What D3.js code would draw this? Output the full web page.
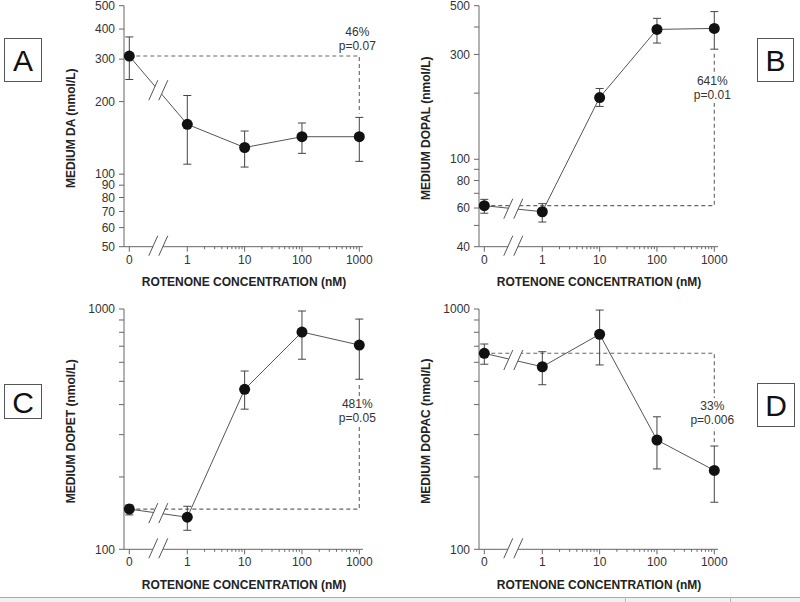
<!DOCTYPE html>
<html><head><meta charset="utf-8">
<script src="https://cdn.jsdelivr.net/npm/d3@7"></script>
<style>
html,body{margin:0;padding:0;background:#fff;}
svg{display:block;font-family:"Liberation Sans",Arial,sans-serif;}
</style></head>
<body><svg id="chart" width="800" height="602"></svg>
<script>
// ---------- data ----------
const concLabels = ["0", "1", "10", "100", "1000"];
const concValues = [0, 1, 10, 100, 1000];

const daMean  = [309, 161, 129, 143, 143];
const daUpper = [371, 212, 151, 163, 172];
const daLower = [247, 110, 107, 122, 113];

const dopalMean  = [61.5, 57.7, 191, 390, 394];
const dopalUpper = [65.7, 62.8, 210, 438, 470];
const dopalLower = [56.8, 51.8, 174, 338, 317];

const dopetMean  = [147, 136, 463, 802, 708];
const dopetUpper = [153, 151, 552, 981, 908];
const dopetLower = [139, 120, 383, 618, 510];

const dopacMean  = [654, 575, 785, 285, 213];
const dopacUpper = [715, 664, 990, 356, 269];
const dopacLower = [589, 484, 585, 216, 157];

const yTicksA = [500, 400, 300, 200, 100, 90, 80, 70, 60, 50];
const yLabelsA = [500, 400, 300, 200, 100, 90, 80, 70, 60, 50];
const yTicksB = [500, 400, 300, 200, 100, 90, 80, 70, 60, 50, 40];
const yLabelsB = [500, 300, 100, 80, 60, 40];
const yTicksCD = [100, 200, 300, 400, 500, 600, 700, 800, 900, 1000];
const yLabelsCD = [100, 1000];

const xLogTicks = [1, 10, 100, 1000];

const titles = ["MEDIUM DA (nmol/L)", "MEDIUM DOPAL (nmol/L)", "MEDIUM DOPET (nmol/L)", "MEDIUM DOPAC (nmol/L)"];
const xTitle = "ROTENONE CONCENTRATION (nM)";
const annotPct = ["46%", "641%", "481%", "33%"];
const annotP = ["p=0.07", "p=0.01", "p=0.05", "p=0.006"];
const panelLetters = ["A", "B", "C", "D"];

// ---------- layout ----------
const svg = d3.select("#chart");
const W = 800, H = 602;

const panels = [
  {mean: daMean, up: daUpper, lo: daLower, dom: [50, 500], ticks: yTicksA, labels: yLabelsA,
   ox: 124, oy: 5.7, h: 241, annotY: [36.3, 50.3], annotBg: false,
   box: {x: 4, y: 38, w: 37, h: 43}},
  {mean: dopalMean, up: dopalUpper, lo: dopalLower, dom: [40, 500], ticks: yTicksB, labels: yLabelsB,
   ox: 479, oy: 5.7, h: 241, annotY: [85, 98.6], annotBg: true,
   box: {x: 757, y: 38, w: 36, h: 43}},
  {mean: dopetMean, up: dopetUpper, lo: dopetLower, dom: [100, 1000], ticks: yTicksCD, labels: yLabelsCD,
   ox: 124, oy: 309, h: 240.3, annotY: [408.3, 422.3], annotBg: true,
   box: {x: 4, y: 384, w: 37, h: 34}},
  {mean: dopacMean, up: dopacUpper, lo: dopacLower, dom: [100, 1000], ticks: yTicksCD, labels: yLabelsCD,
   ox: 479, oy: 309, h: 240.3, annotY: [410, 424.3], annotBg: true,
   box: {x: 757, y: 383, w: 37, h: 43}}
];

const axisColor = "#666";
const textColor = "#222";
const x0Pos = 5.3;          // position of the "0" category
const axisEnd = 239;
const xs = d3.scaleLog().domain([1, 1000]).range([63.3, 235.3]);
const xPos = v => v === 0 ? x0Pos : xs(v);
const breakX = (x0Pos + xs(1)) / 2;

function breakMark(g, cx, cy) {
  const dx = 4.5, dy = 10, sep = 5;
  g.append("path")
    .attr("d", `M${cx - sep - dx},${cy + dy} L${cx - sep + dx},${cy - dy} L${cx + sep + dx},${cy - dy} L${cx + sep - dx},${cy + dy} Z`)
    .attr("fill", "#fff");
  [-sep, sep].forEach(o => {
    g.append("line")
      .attr("x1", cx + o - dx).attr("y1", cy + dy)
      .attr("x2", cx + o + dx).attr("y2", cy - dy)
      .attr("stroke", "#555").attr("stroke-width", 1);
  });
}

panels.forEach((p, i) => {
  const g = svg.append("g").attr("transform", `translate(${p.ox},${p.oy})`);
  const ys = d3.scaleLog().domain(p.dom).range([p.h, 0]);

  // y axis
  g.append("line").attr("x1", 0).attr("x2", 0).attr("y1", 0).attr("y2", p.h)
    .attr("stroke", axisColor);
  p.ticks.forEach(t => {
    g.append("line").attr("x1", -5).attr("x2", 0).attr("y1", ys(t)).attr("y2", ys(t))
      .attr("stroke", axisColor);
  });
  p.labels.forEach(t => {
    g.append("text").attr("x", -9).attr("y", ys(t)).attr("dy", "0.35em")
      .attr("text-anchor", "end").attr("font-size", 12).attr("fill", "#333").text(t);
  });

  // x axis
  g.append("line").attr("x1", 0).attr("x2", axisEnd).attr("y1", p.h).attr("y2", p.h)
    .attr("stroke", axisColor);
  concValues.forEach((v, k) => {
    g.append("line").attr("x1", xPos(v)).attr("x2", xPos(v)).attr("y1", p.h).attr("y2", p.h + 5)
      .attr("stroke", axisColor);
    g.append("text").attr("x", xPos(v)).attr("y", p.h + 17).attr("text-anchor", "middle")
      .attr("font-size", 12).attr("fill", "#333").text(concLabels[k]);
  });
  xLogTicks.slice(0, 3).forEach(d => {
    for (let m = 2; m <= 9; m++) {
      const xv = xs(d * m);
      g.append("line").attr("x1", xv).attr("x2", xv).attr("y1", p.h).attr("y2", p.h + 2.5)
        .attr("stroke", axisColor);
    }
  });
  breakMark(g, breakX, p.h - 1);

  // titles
  g.append("text").attr("transform", `translate(-53,${p.h / 2 + 2}) rotate(-90)`)
    .attr("text-anchor", "middle").attr("dy", "0.35em")
    .attr("font-size", 12).attr("font-weight", "bold").attr("fill", textColor).text(titles[i]);
  g.append("text").attr("x", 120).attr("y", p.h + 39.6).attr("text-anchor", "middle")
    .attr("font-size", 12).attr("font-weight", "bold").attr("fill", textColor).text(xTitle);

  // dashed reference lines
  const baseY = ys(p.mean[0]);
  const xEnd = xs(1000);
  const endErr = p.mean[4] < p.mean[0] ? ys(p.up[4]) : ys(p.lo[4]);
  const vEnd = endErr + (baseY > endErr ? 4 : -4);
  g.append("path")
    .attr("d", `M${xPos(0)},${baseY} L${xEnd},${baseY} L${xEnd},${vEnd}`)
    .attr("fill", "none").attr("stroke", "#666").attr("stroke-width", 1.1).attr("stroke-dasharray", "4,3");

  // annotation
  const ann = g.append("g");
  if (p.annotBg) {
    ann.append("rect").attr("x", xEnd - 22).attr("y", p.annotY[0] - p.oy - 12)
      .attr("width", 44).attr("height", 30).attr("fill", "#fff");
  }
  ann.append("text").attr("x", xEnd - 2).attr("y", p.annotY[0] - p.oy)
    .attr("text-anchor", "middle").attr("font-size", 12).attr("fill", "#333").text(annotPct[i]);
  ann.append("text").attr("x", xEnd - 2).attr("y", p.annotY[1] - p.oy)
    .attr("text-anchor", "middle").attr("font-size", 12).attr("fill", "#333").text(annotP[i]);

  // connecting line
  const line = d3.line().x((d, k) => xPos(concValues[k])).y(d => ys(d));
  g.append("path").datum(p.mean).attr("d", line).attr("fill", "none")
    .attr("stroke", "#555").attr("stroke-width", 1);
  const t = (breakX - xPos(0)) / (xPos(1) - xPos(0));
  const lyBreak = ys(p.mean[0]) + t * (ys(p.mean[1]) - ys(p.mean[0]));
  breakMark(g, breakX, lyBreak);

  // error bars
  p.mean.forEach((m, k) => {
    const xv = xPos(concValues[k]);
    g.append("line").attr("x1", xv).attr("x2", xv).attr("y1", ys(p.up[k])).attr("y2", ys(p.lo[k]))
      .attr("stroke", "#444");
    [p.up[k], p.lo[k]].forEach(e => {
      g.append("line").attr("x1", xv - 4).attr("x2", xv + 4).attr("y1", ys(e)).attr("y2", ys(e))
        .attr("stroke", "#444");
    });
  });
  g.selectAll("circle.pt").data(p.mean).enter().append("circle")
    .attr("cx", (d, k) => xPos(concValues[k])).attr("cy", d => ys(d)).attr("r", 5.5)
    .attr("fill", "#111");

  // panel letter box
  svg.append("rect").attr("x", p.box.x + 0.5).attr("y", p.box.y + 0.5)
    .attr("width", p.box.w).attr("height", p.box.h)
    .attr("fill", "#fff").attr("stroke", "#555");
  svg.append("text").attr("x", p.box.x + p.box.w / 2 + 0.5).attr("y", p.box.y + p.box.h / 2 + 1)
    .attr("dy", "0.35em").attr("text-anchor", "middle").attr("font-size", 30)
    .attr("fill", "#111").text(panelLetters[i]);
});

// bottom page strip
svg.append("rect").attr("x", 0).attr("y", 597).attr("width", W).attr("height", 5).attr("fill", "#f1f1f1");
svg.append("line").attr("x1", 0).attr("x2", W).attr("y1", 597.5).attr("y2", 597.5).attr("stroke", "#aaa");
[625, 730].forEach(x => {
  svg.append("line").attr("x1", x + 0.5).attr("x2", x + 0.5).attr("y1", 597).attr("y2", 602).attr("stroke", "#bbb");
});
</script></body></html>
